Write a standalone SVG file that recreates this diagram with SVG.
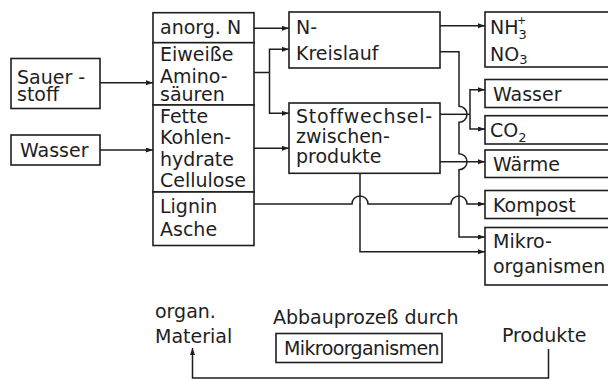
<svg xmlns="http://www.w3.org/2000/svg" width="608" height="380" viewBox="0 0 608 380">
  <style>
    .box { fill: #fff; stroke: #1e1e1e; stroke-width: 1.6; }
    .lbl { font-family: "DejaVu Sans", "Liberation Sans", sans-serif; font-size: 19px; fill: #1e1e1e; }
    .sub { font-size: 13px; }
    .sup { font-size: 11px; }
    .wire { fill: none; stroke: #1e1e1e; stroke-width: 1.5; }
    .arr { marker-end: url(#head); }
  </style>
  <defs>
    <marker id="head" markerUnits="userSpaceOnUse" markerWidth="8" markerHeight="6" refX="7" refY="2.5" orient="auto">
      <path d="M0,0 L7,2.5 L0,5 Z" fill="#1e1e1e"/>
    </marker>
  </defs>
  <rect width="608" height="380" fill="#fff"/>

  <!-- inputs -->
  <g id="sauerstoff">
    <rect class="box" x="11" y="58.5" width="89" height="50"/>
    <text class="lbl" x="17" y="84">Sauer -</text>
    <text class="lbl" x="17" y="101">stoff</text>
  </g>
  <g id="wasser-in">
    <rect class="box" x="11" y="135" width="89" height="30"/>
    <text class="lbl" x="20" y="157">Wasser</text>
  </g>

  <!-- organic material, stacked compartments -->
  <g id="anorg-n">
    <rect class="box" x="153" y="12.7" width="101" height="30"/>
    <text class="lbl" x="160" y="34.3">anorg. N</text>
  </g>
  <g id="eiweisse">
    <rect class="box" x="153" y="42.7" width="101" height="62.3"/>
    <text class="lbl" x="160" y="60.7">Eiweiße</text>
    <text class="lbl" x="160" y="83">Amino-</text>
    <text class="lbl" x="160" y="100.5">säuren</text>
  </g>
  <g id="fette">
    <rect class="box" x="153" y="105" width="101" height="87"/>
    <text class="lbl" x="160" y="123.3">Fette</text>
    <text class="lbl" x="160" y="144">Kohlen-</text>
    <text class="lbl" x="160" y="165.5">hydrate</text>
    <text class="lbl" x="160" y="186.5">Cellulose</text>
  </g>
  <g id="lignin">
    <rect class="box" x="153" y="192" width="101" height="53.5"/>
    <text class="lbl" x="160" y="213.3">Lignin</text>
    <text class="lbl" x="160" y="236">Asche</text>
  </g>

  <!-- processes -->
  <g id="n-kreislauf">
    <rect class="box" x="289" y="12" width="151" height="56"/>
    <text class="lbl" x="296" y="34.3">N-</text>
    <text class="lbl" x="296" y="60">Kreislauf</text>
  </g>
  <g id="stoffwechsel">
    <rect class="box" x="289" y="103" width="151" height="70.3"/>
    <text class="lbl" x="296" y="123.3" letter-spacing="0.7">Stoffwechsel-</text>
    <text class="lbl" x="296" y="142.5">zwischen-</text>
    <text class="lbl" x="296" y="163.3">produkte</text>
  </g>

  <!-- products -->
  <g id="ammonium-nitrat">
    <rect class="box" x="485" y="12" width="130" height="55"/>
    <text class="lbl" x="490" y="34.3">NH<tspan class="sub" dy="5">3</tspan></text>
    <text class="lbl sup" x="517" y="24">+</text>
    <text class="lbl" x="490" y="61">NO<tspan class="sub" dy="2.5">3</tspan></text>
  </g>
  <g id="wasser-out">
    <rect class="box" x="485" y="79.5" width="130" height="28"/>
    <text class="lbl" x="493" y="100.7">Wasser</text>
  </g>
  <g id="co2">
    <rect class="box" x="485" y="115.7" width="130" height="28.3"/>
    <text class="lbl" x="490" y="136.5">CO<tspan class="sub" dy="5">2</tspan></text>
  </g>
  <g id="waerme">
    <rect class="box" x="485" y="150" width="130" height="27.5"/>
    <text class="lbl" x="493" y="170.7">Wärme</text>
  </g>
  <g id="kompost">
    <rect class="box" x="485" y="190.5" width="130" height="28"/>
    <text class="lbl" x="493" y="211.7">Kompost</text>
  </g>
  <g id="mikroorganismen">
    <rect class="box" x="485" y="227.5" width="130" height="57.5"/>
    <text class="lbl" x="493" y="248">Mikro-</text>
    <text class="lbl" x="493" y="273">organismen</text>
  </g>

  <!-- summary cycle -->
  <g id="organ-material">
    <text class="lbl" x="155" y="318">organ.</text>
    <text class="lbl" x="155" y="343">Material</text>
  </g>
  <g id="abbauprozess">
    <text class="lbl" x="273" y="324">Abbauprozeß durch</text>
    <rect class="box" x="276" y="333.5" width="166" height="29"/>
    <text class="lbl" x="284" y="355" letter-spacing="-0.6">Mikroorganismen</text>
  </g>
  <g id="produkte">
    <text class="lbl" x="502" y="342">Produkte</text>
  </g>

  <g id="connectors">
    <path class="wire arr" d="M100,82.7 H153"/>
    <path class="wire arr" d="M100,150 H153"/>
    <path class="wire arr" d="M254,28.3 H289"/>
    <path class="wire" d="M254,72.5 H269.5"/>
    <path class="wire arr" d="M269.5,72.5 V49.3 H289"/>
    <path class="wire arr" d="M269.5,72.5 V113.3 H289"/>
    <path class="wire arr" d="M254,148.3 H289"/>
    <path class="wire arr" d="M440,25.7 H485"/>
    <path class="wire arr" d="M440,51.7 H459 V106.3 A8,8 0 0 1 459,122.3 V153.7 A8,8 0 0 1 459,169.7 V237 H485"/>
    <path class="wire" d="M440,114.3 H470"/>
    <path class="wire arr" d="M470,114.3 V89.7 H485"/>
    <path class="wire arr" d="M470,114.3 V129 H485"/>
    <path class="wire arr" d="M440,161.7 H485"/>
    <path class="wire arr" d="M254,204 H352 A8,8 0 0 1 368,204 H451 A8,8 0 0 1 467,204 H485"/>
    <path class="wire arr" d="M360,173.3 V251.7 H485"/>
    <path class="wire arr" d="M548.5,349 V378 H192.5 V348"/>
  </g>
</svg>
